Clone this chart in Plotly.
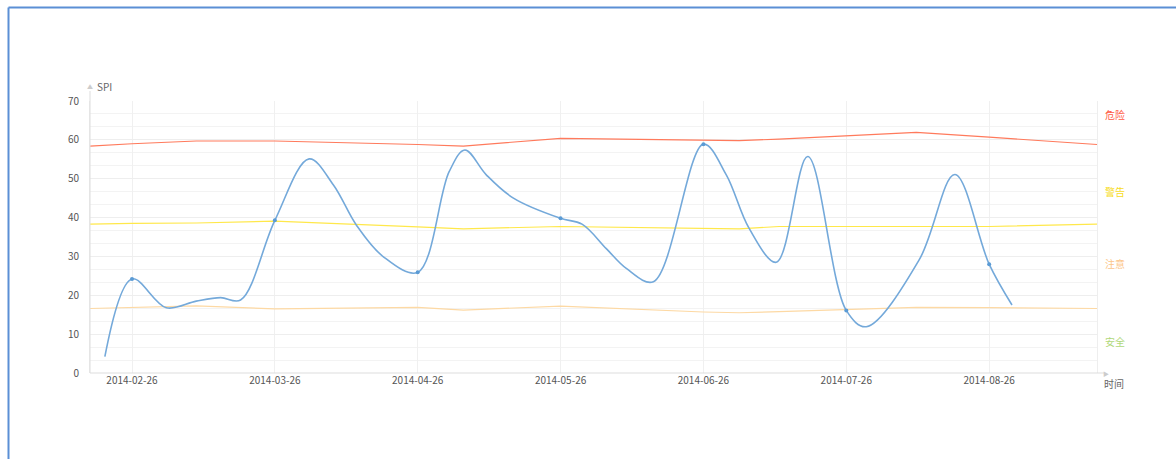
import plotly.graph_objects as go

# ---------------- data ----------------
tick_labels = ["2014-02-26", "2014-03-26", "2014-04-26", "2014-05-26",
               "2014-06-26", "2014-07-26", "2014-08-26"]
tick_pos = [0, 1, 2, 3, 4, 5, 6]

# SPI series (position in months from 2014-02-26, value)
spi_pos = [-0.19, 0.0, 0.24, 0.45, 0.62, 0.76, 1.0, 1.24, 1.41, 1.57, 1.76, 2.0,
           2.22, 2.33, 2.48, 2.67, 3.0, 3.15, 3.32, 3.46, 3.65, 4.0, 4.16, 4.32,
           4.51, 4.73, 5.0, 5.14, 5.51, 5.76, 6.0, 6.16]
spi_val = [4.2, 24.2, 16.8, 18.5, 19.4, 18.8, 39.3, 55.1, 48.4, 38.1, 29.9, 25.9,
           51.8, 57.4, 51.0, 45.0, 39.8, 38.3, 32.0, 26.9, 23.5, 58.9, 51.0, 37.2,
           28.5, 55.7, 16.1, 11.9, 29.1, 51.1, 28.0, 17.5]

# threshold lines
thr_pos = [-0.294, 0.0, 0.45, 1.0, 2.0, 2.32, 3.0, 4.0, 4.25, 4.53, 5.0, 5.49, 6.0, 6.755]
danger_val = [58.4, 59.0, 59.7, 59.7, 58.8, 58.4, 60.4, 59.8, 59.8, 60.2, 61.1, 61.9, 60.7, 58.8]
warn_val = [38.3, 38.5, 38.6, 39.1, 37.6, 37.1, 37.7, 37.3, 37.1, 37.7, 37.7, 37.7, 37.7, 38.3]
notice_val = [16.6, 16.9, 17.3, 16.5, 16.9, 16.2, 17.2, 15.7, 15.5, 15.8, 16.4, 16.9, 16.8, 16.6]

zone_names = ["危险", "警告", "注意", "安全"]
zone_colors = ["#ff5b45", "#f7dc1e", "#fcc68a", "#b0d87a"]
zone_label_y = [66.4, 46.8, 28.3, 8.2]

y_title = "SPI"
x_title = "时间"

# ---------------- figure ----------------
W, H = 1176, 459
L, R, T, B = 90, 1097, 101, 373
FONT = "Microsoft YaHei, Noto Sans CJK SC, sans-serif"


def px(xp):
    return (xp - L) / (R - L)


def py(yp):
    return (B - yp) / (B - T)


fig = go.Figure()

fig.add_trace(go.Scatter(x=thr_pos, y=notice_val, mode="lines",
                         line=dict(color="#fdd9a4", width=1.2), hoverinfo="skip"))
fig.add_trace(go.Scatter(x=thr_pos, y=warn_val, mode="lines",
                         line=dict(color="#ffe84a", width=1.2), hoverinfo="skip"))
fig.add_trace(go.Scatter(x=thr_pos, y=danger_val, mode="lines",
                         line=dict(color="#ff7a5c", width=1.2), hoverinfo="skip"))

fig.add_trace(go.Scatter(x=spi_pos, y=spi_val, mode="lines",
                         line=dict(color="#74a9da", width=1.6, shape="spline", smoothing=1.0)))
mk_x = [p for p in spi_pos if p in tick_pos]
mk_y = [v for p, v in zip(spi_pos, spi_val) if p in tick_pos]
fig.add_trace(go.Scatter(x=mk_x, y=mk_y, mode="markers",
                         marker=dict(color="#5b9bd5", size=4)))

annotations = []
for name, col, yv in zip(zone_names, zone_colors, zone_label_y):
    annotations.append(dict(x=px(1103), y=yv, xref="paper", yref="y", text=name,
                            showarrow=False, xanchor="left", yanchor="middle",
                            font=dict(family=FONT, size=10, color=col)))
annotations.append(dict(x=px(1102), y=py(383), xref="paper", yref="paper", text=x_title,
                        showarrow=False, xanchor="left", yanchor="middle",
                        font=dict(family=FONT, size=10, color="#666")))
annotations.append(dict(x=px(95), y=py(87), xref="paper", yref="paper", text=y_title,
                        showarrow=False, xanchor="left", yanchor="middle",
                        font=dict(family=FONT, size=10, color="#666")))
annotations.append(dict(x=px(90), y=py(87), xref="paper", yref="paper", text="▲",
                        showarrow=False, xanchor="center", yanchor="middle",
                        font=dict(family=FONT, size=6, color="#cccccc")))
annotations.append(dict(x=px(1106), y=py(373), xref="paper", yref="paper", text="▶",
                        showarrow=False, xanchor="center", yanchor="middle",
                        font=dict(family=FONT, size=6, color="#cccccc")))

shapes = [
    dict(type="line", xref="paper", yref="paper", x0=px(8.5), x1=px(8.5),
         y0=py(7.5), y1=py(470), line=dict(color="#5b8fd5", width=2)),
    dict(type="line", xref="paper", yref="paper", x0=px(8.5), x1=px(1190),
         y0=py(7.5), y1=py(7.5), line=dict(color="#5b8fd5", width=2)),
    dict(type="line", xref="paper", yref="paper", x0=0, x1=0, y0=0, y1=py(91),
         line=dict(color="#dddddd", width=1)),
    dict(type="line", xref="paper", yref="paper", x0=0, x1=px(1104), y0=0, y1=0,
         line=dict(color="#dddddd", width=1)),
]

fig.update_layout(
    width=W, height=H,
    margin=dict(l=L, r=W - R, t=T, b=H - B, pad=0),
    paper_bgcolor="white", plot_bgcolor="white",
    showlegend=False,
    annotations=annotations, shapes=shapes,
    font=dict(family=FONT, size=10, color="#555"),
)
fig.update_xaxes(range=[thr_pos[0], thr_pos[-1]], tickvals=tick_pos, ticktext=tick_labels,
                 showgrid=True, gridcolor="#f0f0f0", zeroline=False,
                 showline=False, ticks="", tickfont=dict(size=10, color="#555"),
                 fixedrange=True)
fig.update_yaxes(range=[0, 70], dtick=10, tick0=0, showgrid=True, gridcolor="#eeeeee",
                 minor=dict(dtick=10 / 3, showgrid=True, gridcolor="#f3f3f3"),
                 zeroline=False, showline=True, linecolor="#eeeeee", mirror=True,
                 ticks="", ticklabelstandoff=8, tickfont=dict(size=10, color="#555"),
                 fixedrange=True)

fig.write_html("out.html")
